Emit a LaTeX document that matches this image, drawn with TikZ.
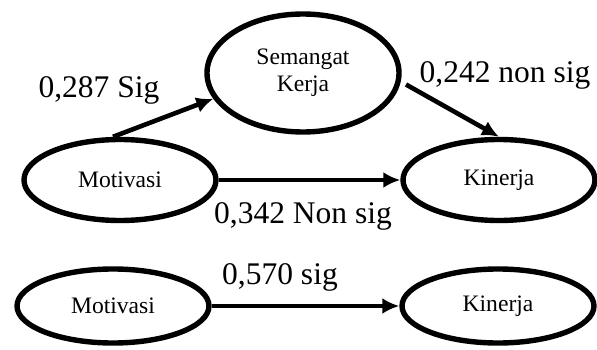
\documentclass[tikz,border=0pt]{standalone}
\usepackage{fontspec}
\setmainfont{Liberation Serif}
\usetikzlibrary{shapes.geometric, arrows.meta}

\begin{document}
\begin{tikzpicture}[x=1pt, y=1pt,
  var/.style={draw, ellipse, line width=5.4pt, inner sep=0pt,
    minimum width=192pt, minimum height=81pt, align=center,
    font=\fontsize{23.6}{27}\selectfont},
  path/.style={line width=4.6pt, -{Latex[length=17pt,width=16pt]}},
  coef/.style={anchor=base, font=\fontsize{31.5}{36}\selectfont}]
\useasboundingbox (0,0) rectangle (597,349);
\node[var, minimum height=118pt] (sem) at (303,276) {\rule{0pt}{12pt}Semangat\\Kerja};
\node[var] (mot) at (120,169) {Motivasi};
\node[var] (kin) at (499,169) {Kinerja};
\node[var, minimum height=74pt] (mot2) at (113,43) {Motivasi};
\node[var, minimum height=74pt] (kin2) at (498,43) {Kinerja};
\draw[path] ([xshift=-7pt]mot.north) -- (sem.196);
\draw[path, shorten <=6pt] (sem.355) -- (kin.north);
\draw[path] (mot.east) -- (kin.west);
\draw[path] (mot2.east) -- (kin2.west);
\node[coef] (c1) at (99,252) {0,287 Sig};
\node[coef] (c2) at (505,267) {0,242 non sig};
\node[coef] (c3) at (303,126) {0,342 Non sig};
\node[coef] (c4) at (280,65) {0,570 sig};
\end{tikzpicture}
\end{document}
